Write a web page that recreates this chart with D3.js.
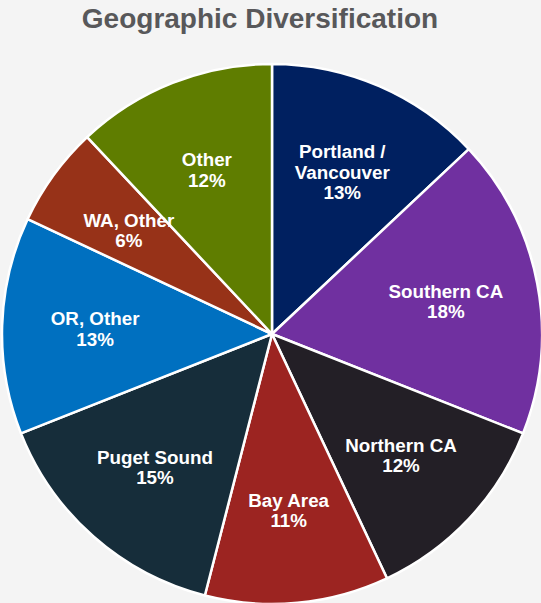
<!DOCTYPE html>
<html>
<head>
<meta charset="utf-8">
<script src="https://cdn.jsdelivr.net/npm/d3@7"></script>
<style>
  body { margin: 0; background: #f4f4f4; }
  svg { display: block; }
</style>
</head>
<body>
<div id="vis"></div>
<script>
// slice data, clockwise from 12 o'clock
var regions = ["Portland / Vancouver", "Southern CA", "Northern CA", "Bay Area",
               "Puget Sound", "OR, Other", "WA, Other", "Other"];
var shares = [13, 18, 12, 11, 15, 13, 6, 12];
var colors = ["#002060", "#7030a0", "#231f26", "#9c2421",
              "#162d3a", "#0070c0", "#973218", "#5f7d00"];

var width = 541, height = 603;
var cx = 272, cy = 334, radius = 270;

var svg = d3.select("#vis").append("svg")
  .attr("width", width)
  .attr("height", height);

svg.append("text")
  .attr("x", 260)
  .attr("y", 28)
  .attr("text-anchor", "middle")
  .style("font-family", "Liberation Sans, Arial, sans-serif")
  .style("font-weight", "bold")
  .style("font-size", "28px")
  .style("fill", "#58585a")
  .text("Geographic Diversification");

var pie = d3.pie().sort(null).value(function (d) { return d; });
var arcs = pie(shares);

var arc = d3.arc().innerRadius(0).outerRadius(radius);
var labelArc = d3.arc().innerRadius(177).outerRadius(177);

var g = svg.append("g")
  .attr("transform", "translate(" + cx + "," + cy + ")");

g.selectAll("path.slice")
  .data(arcs)
  .enter().append("path")
    .attr("class", "slice")
    .attr("d", arc)
    .style("fill", function (d, i) { return colors[i]; })
    .style("stroke", "#ffffff")
    .style("stroke-width", 2.5)
    .style("stroke-linejoin", "round");

var labels = g.selectAll("text.lbl")
  .data(arcs)
  .enter().append("text")
    .attr("class", "lbl")
    .attr("text-anchor", "middle")
    .style("font-family", "Liberation Sans, Arial, sans-serif")
    .style("font-weight", "bold")
    .style("font-size", "18.8px")
    .style("fill", "#ffffff");

labels.each(function (d, i) {
  var c = labelArc.centroid(d);
  var lines = regions[i].indexOf(" / ") > -1
    ? regions[i].replace(" / ", " /|").split("|")
    : [regions[i]];
  lines.push(shares[i] + "%");
  var lh = 20.5;
  var top = c[1] - (lines.length - 1) * lh / 2 + 7;
  var t = d3.select(this);
  lines.forEach(function (s, k) {
    t.append("tspan")
      .attr("x", c[0])
      .attr("y", top + k * lh)
      .text(s);
  });
});
</script>
</body>
</html>
